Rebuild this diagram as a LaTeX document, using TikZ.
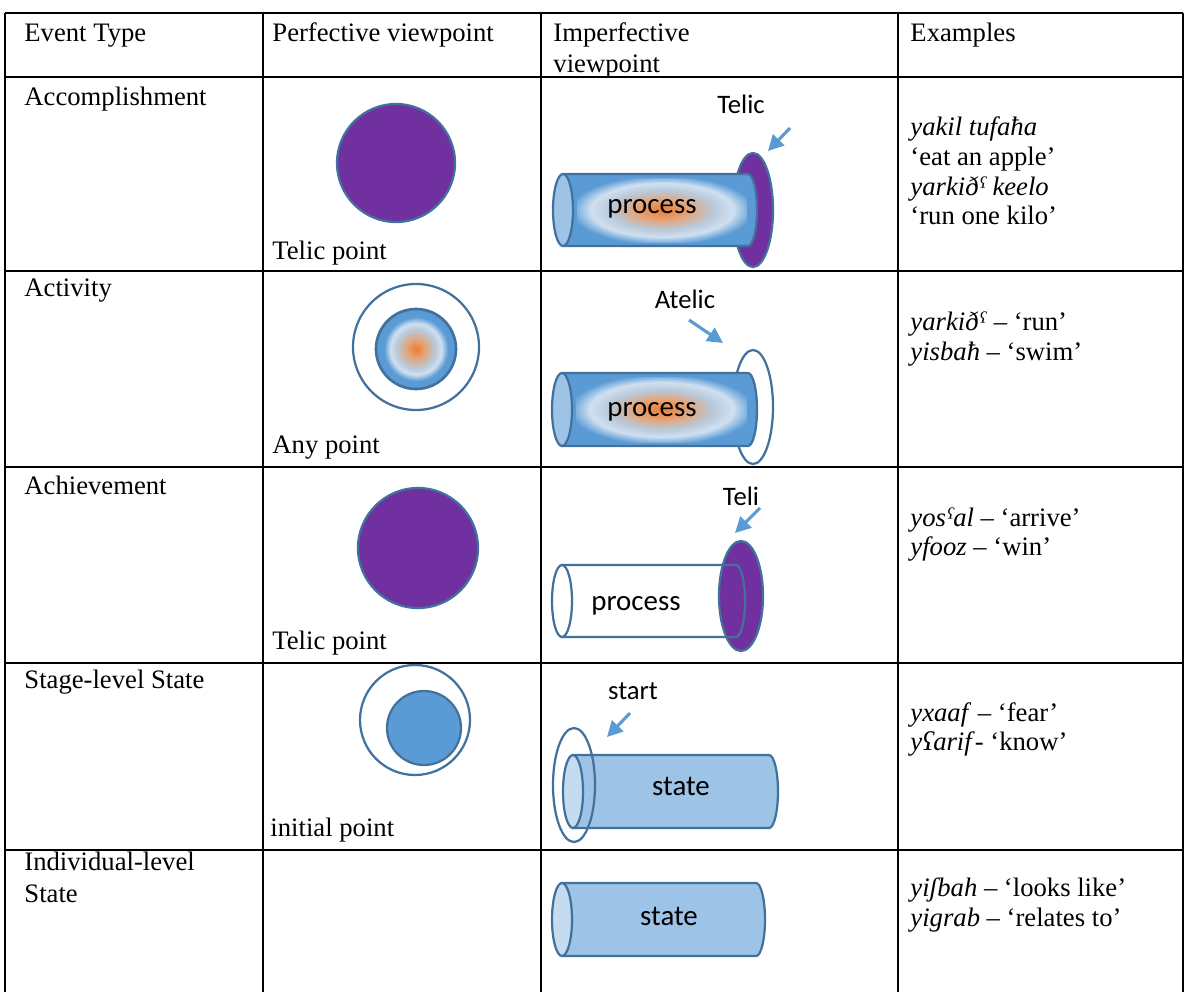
\documentclass[tikz,border=0pt]{standalone}
\usepackage{fontspec}
\setmainfont{Liberation Serif}
\newfontfamily\calibri{Carlito}
\usetikzlibrary{arrows.meta}
\definecolor{acblue}{HTML}{5B9BD5}
\definecolor{acedge}{HTML}{41719C}
\definecolor{acpurple}{HTML}{7030A0}
\definecolor{aclight}{HTML}{9DC3E6}
\definecolor{acpale}{HTML}{C5DCF0}
\definecolor{acorange}{HTML}{ED7D31}
\definecolor{acpeach}{HTML}{E3A57C}
\definecolor{acgrey}{HTML}{B9C8D8}
\definecolor{acmist}{HTML}{CFE0F1}
\pgfdeclareradialshading{processglow}{\pgfpoint{0bp}{0bp}}{color(0bp)=(acorange); color(8bp)=(acpeach); color(15bp)=(acgrey); color(21bp)=(acmist); color(27bp)=(acblue); color(80bp)=(acblue)}
\pgfdeclareradialshading{pointglow}{\pgfpoint{0bp}{0bp}}{color(0bp)=(acorange); color(6bp)=(acpeach); color(12bp)=(acgrey); color(16bp)=(acmist); color(20bp)=(acblue); color(80bp)=(acblue)}
\newcommand{\tubeshape}[6]{
        \pgfmathsetmacro{\tubemid}{(#3+#4)/2}
        \pgfmathsetmacro{\tuberad}{(#4-#3)/2}
        \filldraw[fill=#5,tubeline] (#1,#3) -- (#2,#3) arc[start angle=-90,end angle=90,x radius=9,y radius=\tuberad] -- (#1,#4) -- cycle;
        \filldraw[fill=#6,tubeline] (#1,\tubemid) ellipse [x radius=10,y radius=\tuberad];
}
\newcommand{\tubeglow}[4]{
        \shade[shading=processglow] (#1+14,#3+4) rectangle (#2-1,#4-4);
}

\begin{document}
\begin{tikzpicture}[x=0.45pt,y=-0.45pt,
        font=\fontsize{12}{14}\selectfont,
        cell/.style={anchor=base west,inner sep=0pt},
        tubetext/.style={anchor=base,inner sep=0pt,font=\calibri\fontsize{13}{15}\selectfont},
        tag/.style={anchor=base,inner sep=0pt,font=\calibri\fontsize{12}{14}\selectfont},
        tubeline/.style={draw=acedge,line width=1pt},
        pointer/.style={draw=acblue,line width=1.4pt,-{Triangle[length=7pt,width=7pt]}}]

            \useasboundingbox (0,0) rectangle (1187,992);
            \fill[white] (0,0) rectangle (1187,992);

            \draw[line width=0.9pt] (5,13) -- (1183,13);
            \draw[line width=0.9pt] (5,77) -- (1183,77);
            \draw[line width=0.9pt] (5,271) -- (1183,271);
            \draw[line width=0.9pt] (5,467) -- (1183,467);
            \draw[line width=0.9pt] (5,663) -- (1183,663);
            \draw[line width=0.9pt] (5,850) -- (1183,850);
            \draw[line width=0.9pt] (5,13) -- (5,992);
            \draw[line width=0.9pt] (263,13) -- (263,992);
            \draw[line width=0.9pt] (541,13) -- (541,992);
            \draw[line width=0.9pt] (898,13) -- (898,992);
            \draw[line width=0.9pt] (1183,13) -- (1183,992);

            \node[cell] (hdtype) at (24,41) {Event Type};
            \node[cell] (hdperf) at (272,41) {Perfective viewpoint};
            \node[cell] (hdimpa) at (553,41) {Imperfective};
            \node[cell] (hdimpb) at (553,72) {viewpoint};
            \node[cell] (hdex) at (910,41) {Examples};

            % accomplishment
            \node[cell] (accom) at (24,105) {Accomplishment};
            \filldraw[fill=acpurple,draw=acedge,line width=1pt] (396,163) circle (59);
            \node[cell] (accpt) at (272,259) {Telic point};
            \filldraw[fill=acpurple,draw=acedge,line width=1pt] (753,210) ellipse [x radius=20,y radius=57];
            \tubeshape{563}{748}{174}{246}{acblue}{aclight}
            \tubeglow{563}{748}{174}{246}
            \node[tubetext] (accproc) at (652,213) {process};
            \node[tag] (acctag) at (741,113) {Telic};
            \coordinate (accfrom) at (790,128);
            \coordinate (accto) at (768,151);
            \draw[pointer] (accfrom) -- (accto);
            \node[cell] (accexa) at (910,135) {\textit{yakil tufaħa}};
            \node[cell] (accexb) at (910,165) {‘eat an apple’};
            \node[cell] (accexc) at (910,195) {\textit{yarkiðˤ keelo}};
            \node[cell] (accexd) at (910,224) {‘run one kilo’};

            % activity
            \node[cell] (activ) at (24,296) {Activity};
            \draw[draw=acedge,line width=1pt] (416,347) circle (63);
            \shade[shading=pointglow] (416,349) circle (40);
            \draw[draw=acedge,line width=1.2pt] (416,349) circle (40);
            \node[cell] (actpt) at (272,453) {Any point};
            \draw[draw=acedge,line width=1pt] (753,407) ellipse [x radius=20,y radius=57];
            \tubeshape{562}{748}{373}{446}{acblue}{aclight}
            \tubeglow{562}{748}{373}{446}
            \node[tubetext] (actproc) at (652,416) {process};
            \node[tag] (acttag) at (685,308) {Atelic};
            \coordinate (actfrom) at (689,320);
            \coordinate (actto) at (723,343);
            \draw[pointer] (actfrom) -- (actto);
            \node[cell] (actexa) at (910,330) {\textit{yarkiðˤ} – ‘run’};
            \node[cell] (actexb) at (910,360) {\textit{yisbaħ} – ‘swim’};

            % achievement
            \node[cell] (achiev) at (24,494) {Achievement};
            \filldraw[fill=acpurple,draw=acedge,line width=1pt] (418,548) circle (60);
            \node[cell] (achpt) at (272,649) {Telic point};
            \filldraw[fill=acpurple,draw=acedge,line width=1pt] (741,596) ellipse [x radius=22,y radius=55];
            \tubeshape{562}{736}{565}{637}{none}{white}
            \node[tubetext] (achproc) at (636,610) {process};
            \node[tag] (achtag) at (741,505) {Teli};
            \coordinate (achfrom) at (760,508);
            \coordinate (achto) at (735,533);
            \draw[pointer] (achfrom) -- (achto);
            \node[cell] (achexa) at (910,526) {\textit{yosˤal} – ‘arrive’};
            \node[cell] (achexb) at (910,555) {\textit{yfooz} – ‘win’};

            % stage-level state
            \node[cell] (stage) at (24,688) {Stage-level State};
            \draw[draw=acedge,line width=1pt] (415,720) circle (55);
            \filldraw[fill=acblue,draw=acedge,line width=1pt] (424,728) circle (37);
            \node[cell] (stgpt) at (270,836) {initial point};
            \tubeshape{573}{769}{755}{828}{aclight}{acpale}
            \draw[draw=acedge,line width=1pt] (574,785) ellipse [x radius=21,y radius=57];
            \node[tubetext] (stgstate) at (681,795) {state};
            \node[tag] (stgtag) at (633,699) {start};
            \coordinate (stgfrom) at (630,713);
            \coordinate (stgto) at (607,737);
            \draw[pointer] (stgfrom) -- (stgto);
            \node[cell] (stgexa) at (910,721) {\textit{yxaaf} – ‘fear’};
            \node[cell] (stgexb) at (910,750) {\textit{yʕarif}- ‘know’};

            % individual-level state
            \node[cell] (indiva) at (24,870) {Individual-level};
            \node[cell] (indivb) at (24,902) {State};
            \tubeshape{562}{756}{883}{956}{aclight}{acpale}
            \node[tubetext] (indstate) at (669,925) {state};
            \node[cell] (indexa) at (910,896) {\textit{yiʃbah} – ‘looks like’};
            \node[cell] (indexb) at (910,926) {\textit{yigrab} – ‘relates to’};
        \end{tikzpicture}
\end{document}
